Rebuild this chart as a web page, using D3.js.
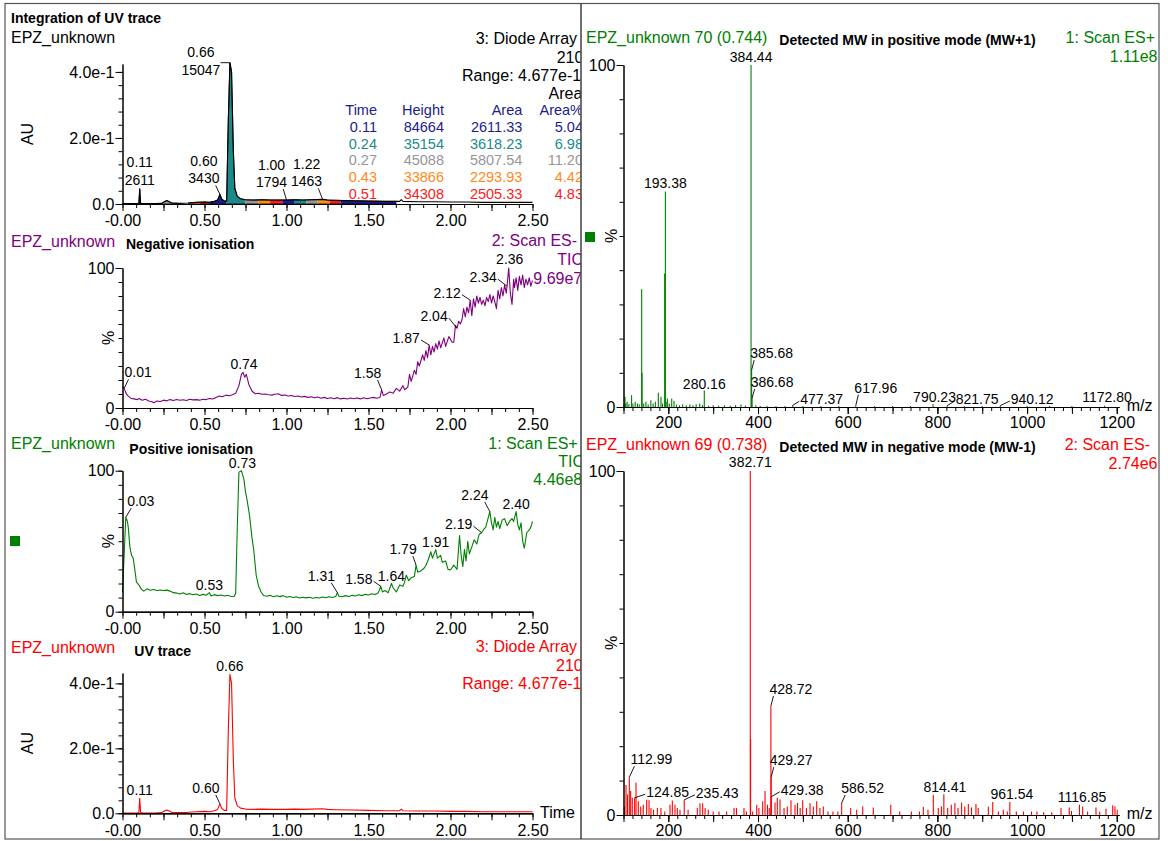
<!DOCTYPE html>
<html>
<head>
<meta charset="UTF-8">
<title>EPZ_unknown</title>
<script src="https://cdn.jsdelivr.net/npm/d3@7"></script>
<style>
body{margin:0;background:#fff;}
text{font-family:"Liberation Sans",Arial,Helvetica,sans-serif;}
</style>
</head>
<body>
<svg id="chart" width="1168" height="841"></svg>
<script>
// ---------- data ----------
// UV trace (time min, AU) - used by both UV panels
var uvTrace = [[0.00,0.001],[0.05,0.001],[0.09,0.001],[0.100,0.002],[0.105,0.046],[0.110,0.003],[0.12,0.001],[0.20,0.001],
  [0.24,0.002],[0.255,0.007],[0.27,0.0105],[0.285,0.007],[0.30,0.003],[0.35,0.002],[0.40,0.003],[0.45,0.005],[0.50,0.006],
  [0.53,0.005],[0.56,0.008],[0.58,0.012],[0.594,0.029],[0.605,0.015],[0.62,0.009],[0.635,0.009],[0.645,0.25],[0.655,0.428],
  [0.665,0.40],[0.676,0.16],[0.685,0.047],[0.70,0.023],[0.72,0.016],[0.75,0.013],[0.80,0.012],[0.85,0.013],[0.90,0.012],
  [0.95,0.012],[1.00,0.012],[1.05,0.013],[1.10,0.012],[1.15,0.013],[1.22,0.014],[1.25,0.012],[1.30,0.011],[1.40,0.010],
  [1.50,0.009],[1.60,0.008],[1.69,0.008],[1.70,0.013],[1.71,0.008],[1.80,0.007],[1.90,0.007],[2.00,0.006],[2.10,0.006],
  [2.20,0.005],[2.30,0.005],[2.40,0.005],[2.50,0.005]];

// negative ionisation TIC (time, %)
var negTic = [[0.00,15],[0.01,14],[0.02,11],[0.03,9],[0.05,7],[0.07,6.5],[0.09,6],[0.10,6.8],[0.12,5.5],[0.14,6.2],[0.16,5],
  [0.18,4.5],[0.19,3.8],[0.21,5],[0.23,4.6],[0.25,5.6],[0.27,5.1],[0.29,6],[0.31,5.3],[0.33,6.1],[0.35,5.5],[0.37,5.9],
  [0.39,5.4],[0.41,6.2],[0.43,5.8],[0.45,6],[0.47,5.6],[0.49,6.3],[0.51,6],[0.53,6.8],[0.55,6.4],[0.57,7.5],[0.59,8.6],
  [0.61,8],[0.63,9.2],[0.65,8.7],[0.67,9.5],[0.69,10.5],[0.71,16],[0.725,24],[0.735,25.5],[0.745,22],[0.755,24],[0.77,17],
  [0.79,12],[0.81,10.2],[0.83,10.5],[0.85,9.8],[0.87,10],[0.89,9.5],[0.91,9.2],[0.93,9.8],[0.95,10.2],[0.97,9],[0.99,9.3],
  [1.01,8.6],[1.03,8.9],[1.05,8.2],[1.07,8.6],[1.09,7.8],[1.11,8.3],[1.13,7.6],[1.15,8],[1.17,7.3],[1.19,7.8],[1.21,7],
  [1.23,7.6],[1.25,6.8],[1.27,7.3],[1.29,6.6],[1.31,7.4],[1.33,6.5],[1.35,7],[1.37,6.4],[1.39,7.2],[1.41,6.6],[1.43,7.1],
  [1.45,6.5],[1.47,7.3],[1.49,6.6],[1.51,7.2],[1.53,7.6],[1.55,7],[1.57,7.5],[1.58,13],[1.59,9],[1.61,10],[1.63,11.5],
  [1.65,10.5],[1.67,14],[1.69,12],[1.71,16],[1.72,13],[1.74,15],[1.75,24],[1.76,19],[1.78,27],[1.79,24],[1.80,33],[1.81,30],
  [1.83,38],[1.84,34],[1.85,41],[1.86,36],[1.87,45],[1.88,38],[1.89,44],[1.90,40],[1.91,46],[1.92,42],[1.93,48],[1.94,43],
  [1.96,50],[1.97,44],[1.99,51],[2.01,47],[2.02,47],[2.03,59],[2.04,57],[2.05,62],[2.06,60],[2.07,63],[2.08,71],[2.09,65],
  [2.10,72],[2.11,68],[2.12,77],[2.13,66],[2.14,78],[2.15,72],[2.16,80],[2.17,75],[2.18,79],[2.19,74],[2.20,77],[2.21,73],
  [2.22,79],[2.23,76],[2.24,81],[2.25,75],[2.26,80],[2.27,76],[2.28,71],[2.29,84],[2.30,78],[2.31,86],[2.32,80],[2.33,88],
  [2.34,82],[2.345,87],[2.355,100],[2.365,82],[2.375,74],[2.385,92],[2.39,86],[2.40,93],[2.41,84],[2.42,94],[2.43,88],
  [2.44,95],[2.45,86],[2.46,92],[2.47,88],[2.48,93],[2.49,87],[2.50,91]];

// positive ionisation TIC (time, %)
var posTic = [[0.00,14],[0.01,40],[0.02,67],[0.03,64],[0.035,60],[0.045,46],[0.055,40],[0.065,38],[0.075,30],[0.085,21],
  [0.10,19],[0.115,16],[0.13,14.6],[0.15,16.2],[0.17,15.2],[0.19,15.8],[0.21,15],[0.23,15.4],[0.25,15],[0.27,15.3],
  [0.29,14.6],[0.31,13.5],[0.33,13.2],[0.35,12.5],[0.37,13.4],[0.39,12.2],[0.41,12.8],[0.43,12],[0.45,12.6],[0.47,11.5],
  [0.49,12.3],[0.51,11.7],[0.53,13.5],[0.54,11.2],[0.56,12.1],[0.58,11.4],[0.60,11.8],[0.62,11.1],[0.64,11.6],[0.66,10.9],
  [0.68,10.8],[0.69,13],[0.70,60],[0.71,99],[0.725,100],[0.74,94],[0.75,85],[0.76,79],[0.775,68],[0.79,52],[0.80,44],
  [0.815,26],[0.83,18],[0.845,14],[0.86,11.5],[0.88,11],[0.90,11.6],[0.92,10.6],[0.94,11.3],[0.96,10.7],[0.98,11.4],
  [1.00,10.3],[1.02,10.8],[1.04,10.1],[1.06,10.6],[1.08,9.7],[1.10,10.3],[1.12,9.8],[1.14,10.2],[1.16,9.5],[1.18,10.1],
  [1.20,9.7],[1.22,10.4],[1.24,9.9],[1.26,10.6],[1.28,10.1],[1.30,10.8],[1.31,13.5],[1.32,11],[1.34,10.6],[1.36,11.4],
  [1.38,10.8],[1.40,11.6],[1.42,11.1],[1.44,12],[1.46,11.4],[1.48,12.3],[1.50,11.8],[1.52,12.7],[1.54,12.2],[1.56,13.5],
  [1.575,18],[1.585,14],[1.60,15],[1.62,13.5],[1.64,20],[1.65,17],[1.67,14],[1.69,19],[1.71,18],[1.72,21],[1.73,26],
  [1.745,22],[1.76,24],[1.78,25],[1.79,33],[1.80,28],[1.82,29],[1.84,31],[1.85,33],[1.865,37],[1.88,42.5],[1.89,38],
  [1.91,44],[1.92,38],[1.94,40],[1.95,35],[1.97,36],[1.985,30],[2.00,29.6],[2.02,33],[2.04,30],[2.055,54],[2.065,40],
  [2.075,32],[2.085,44],[2.095,36],[2.105,50],[2.115,41],[2.13,46],[2.145,51],[2.16,48],[2.175,55],[2.19,56],[2.20,58],
  [2.215,60],[2.24,71],[2.25,63],[2.26,58],[2.27,67],[2.28,60],[2.29,64],[2.30,59],[2.315,65],[2.33,66],[2.345,61],
  [2.36,64],[2.375,66],[2.385,64],[2.40,71],[2.41,62],[2.42,58],[2.43,63],[2.44,50],[2.45,45],[2.465,56],[2.48,58],
  [2.49,60],[2.50,64]];

// integration windows (start, end time) and their fill colours
var intWindows = [[0.0,0.125],[0.13,0.25],[0.25,0.34],[0.40,0.47],[0.47,0.53],[0.53,0.635],[0.635,0.75],[0.75,0.83],
  [0.83,0.90],[0.90,0.975],[0.975,1.05],[1.05,1.12],[1.12,1.19],[1.19,1.265],[1.265,1.33],[1.33,1.67]];
var intColors = ["#1c1c8e","#1a8a8a","#969696","#ff8a1a","#ff1a1a"];

// integration table
var tblHead = ["Time","Height","Area","Area%"];
var tblTime = ["0.11","0.24","0.27","0.43","0.51"];
var tblHeight = ["84664","35154","45088","33866","34308"];
var tblArea = ["2611.33","3618.23","5807.54","2293.93","2505.33"];
var tblPct = ["5.04","6.98","11.20","4.42","4.83"];

// peak labels: [text lines, time of the marked point]
var intLabels = [[["0.11","2611"],0.105],[["0.60","3430"],0.594],[["0.66","15047"],0.655],[["1.00","1794"],1.00],[["1.22","1463"],1.22]];
var negLabels = [["0.01",0.01],["0.74",0.735],["1.58",1.58],["1.87",1.87],["2.04",2.04],["2.12",2.12],["2.34",2.345],["2.36",2.355]];
var posLabels = [["0.03",0.02],["0.53",0.53],["0.73",0.725],["1.31",1.31],["1.58",1.575],["1.64",1.64],["1.79",1.79],["1.91",1.91],["2.19",2.19],["2.24",2.24],["2.40",2.40]];
var uvLabels = [["0.11",0.105],["0.60",0.594],["0.66",0.655]];

// mass spectra (m/z, %)
var posSpec = [[101,0.8],[103.3,3],[105,1],[108,1.5],[112,0.8],[118,3.4],[121,1],[126,1.5],[131,1],[135,0.8],[140.5,34.4],
  [141.5,10],[145,1],[150,1.5],[155,0.7],[161,2],[166,1],[171,1.5],[177.7,4.2],[183.6,3],[187,1],[191.8,39],[193.38,63],
  [195,1.5],[197.8,2.5],[202,1],[207.5,2.5],[212.6,1.8],[218,0.7],[225,0.5],[232,0.8],[240,0.5],[248,0.7],[255,0.5],
  [262,0.8],[270,1],[276,0.6],[280.16,4.8],[290,0.4],[300,0.5],[312,0.4],[325,0.5],[338,0.4],[350,0.6],[362,0.7],[372,0.4],
  [384.44,100],[385.68,10.8],[386.68,2.6],[395,0.5],[405,0.3],[420,0.4],[440,0.3],[460,0.3],[477.37,0.5],[500,0.3],
  [540,0.3],[580,0.3],[617.96,0.4],[660,0.3],[700,0.3],[740,0.3],[790.23,0.9],[821.75,0.4],[860,0.3],[900,0.3],
  [940.12,0.4],[1000,0.3],[1050,0.3],[1100,0.3],[1172.80,0.4]];
var negSpec = [[102,2.5],[105.6,8.7],[109,6],[112.99,11],[116,7],[119.6,5],[124.85,5],[127.9,9.4],[133,4],[138.4,2.5],
  [144,3],[151.7,4.4],[156.9,4.3],[161.3,2],[167,1.5],[175.5,2],[183.6,2],[192,1],[203.7,3],[208.9,4.2],[214.8,3],[220,2],
  [226,1.5],[235.43,4.4],[244,1.5],[264.6,2],[270.6,3.4],[276.6,3.4],[282,2],[289,1.5],[300,1],[313,1],[330,1],[346.5,2],
  [352,2],[368.7,2],[374,1],[382.71,100],[383.4,22],[388,1],[397,3],[402,2],[410.4,4],[415.6,7],[421,3],[425,2],
  [428.72,31.7],[429.27,11],[429.38,5.3],[437.9,3.6],[443,5],[449,4.5],[458,2],[465.3,2.5],[473.5,4.3],[482.5,3],
  [488,3.5],[494,2],[499.6,4.3],[508,2],[516,3.5],[523.3,2.5],[530.8,4],[538,2],[545.6,2.5],[556,1],[567,1],[578,1],
  [586.52,3.5],[606.6,2],[620,1.5],[633.5,2.5],[657,2.2],[696,3],[716,1],[742,1],[760,1],[768.6,2.3],[779,1.5],
  [790.9,5.8],[802,2],[809,2.5],[814.41,6],[823,2],[831,3],[839,3.5],[846,2],[854,3.6],[861,2.5],[869,3.2],[876,2.2],
  [886,3.2],[891,2],[913.6,2.4],[923.4,3.8],[936,1],[947,1.5],[956,1],[961.54,3.8],[976,1],[992,1],[1010,1],[1022,1],
  [1037,0.8],[1055,0.8],[1075.7,2],[1094,2.2],[1099,1.2],[1116.85,3],[1124,2.5],[1135,1],[1153.7,2.2],[1162,1],
  [1176,1.8],[1191,2.8],[1196,2.5],[1201,1.5]];
var posSpecLabels = [384.44,193.38,385.68,386.68,280.16,477.37,617.96,790.23,821.75,940.12,1172.80];
var negSpecLabels = [382.71,428.72,429.27,429.38,112.99,124.85,235.43,586.52,814.41,961.54,1116.85];

// ---------- layout ----------
var svg = d3.select("#chart");
svg.append("rect").attr("width",1168).attr("height",841).attr("fill","#fff");

var PURPLE = "#800080", GREEN = "#008000", RED = "#ff0000";
var fmtTime = function(d){ return d === 0 ? "-0.00" : d3.format(".2f")(d); };

svg.append("defs").append("clipPath").attr("id","leftClip")
  .append("rect").attr("x",0).attr("y",0).attr("width",580.5).attr("height",841);
var left = svg.append("g").attr("clip-path","url(#leftClip)");
var right = svg.append("g");

function styleAxis(g) {
  g.selectAll("path,line").attr("stroke","#000").attr("stroke-width",1);
  g.selectAll("text").attr("fill","#000").attr("font-size",16);
}

function nearest(data, t) {
  var i = d3.minIndex(data, function(d){ return Math.abs(d[0]-t); });
  return data[i];
}

// label with optional leader line, offset (dx,dy) from the marked point
function addLabel(g, px, py, lines, off) {
  var tx = px + off[0], ty = py + off[1];
  var t = g.append("text").attr("text-anchor","middle").attr("font-size",14).attr("fill","#000");
  lines.forEach(function(s,i){
    t.append("tspan").attr("x",tx).attr("y",ty - (lines.length-1-i)*17.5).text(s);
  });
  if (Math.abs(off[0]) > 3) {
    var b = t.node().getBBox(), l = b.x, r = b.x + b.width, sx, sy;
    if (off[1] > 0) { sx = off[0] < 0 ? r : l; sy = py; }
    else if (off[1] < -7) { sx = off[0] < 0 ? r - 4 : l + 4; sy = ty + 2; }
    else { sx = off[0] < 0 ? r + 1 : l - 1; sy = ty - 3; }
    g.append("line").attr("x1",sx).attr("y1",sy).attr("x2",px).attr("y2",py)
      .attr("stroke","#000").attr("stroke-width",0.9);
  }
}

function timeAxes(g, x, y0) {
  var ax = g.append("g").attr("transform","translate(0,"+y0+")");
  ax.append("g").call(d3.axisBottom(x).tickValues(d3.range(0,31).map(function(i){return i/12;}))
    .tickSize(4).tickSizeOuter(0).tickFormat(""));
  ax.append("g").call(d3.axisBottom(x).tickValues([0.25,0.75,1.25,1.75,2.25]).tickSize(7).tickSizeOuter(0).tickFormat(""));
  ax.append("g").call(d3.axisBottom(x).tickValues([0,0.5,1,1.5,2,2.5]).tickSize(7).tickPadding(4)
    .tickSizeOuter(0).tickFormat(fmtTime));
  styleAxis(ax);
}

function valueAxes(g, x0, y, majors, minors, fmt) {
  var ax = g.append("g").attr("transform","translate("+x0+",0)");
  ax.append("g").call(d3.axisLeft(y).tickValues(minors).tickSize(4).tickSizeOuter(0).tickFormat(""));
  ax.append("g").call(d3.axisLeft(y).tickValues(majors).tickSize(7).tickPadding(1).tickSizeOuter(0).tickFormat(fmt));
  styleAxis(ax);
}

function headText(g, s, x, yb, color, size, bold) {
  return g.append("text").attr("x",x).attr("y",yb).attr("fill",color).attr("font-size",size)
    .attr("font-weight",bold ? "bold" : null).text(s);
}

function leftPanel(o) {
  var g = left.append("g");
  var x = d3.scaleLinear().domain([0,2.5]).range([122.5,532.5]);
  var y = d3.scaleLinear().domain([0,o.ymax]).range([o.y0,o.yTop]);
  var line = d3.line().x(function(d){return x(d[0]);}).y(function(d){return y(d[1]);});

  if (o.windows) {
    var area = d3.area().x(function(d){return x(d[0]);}).y0(y(0)).y1(function(d){return y(d[1]);});
    o.windows.forEach(function(w,i){
      var id = "win" + i;
      g.append("clipPath").attr("id",id).append("rect")
        .attr("x",x(w[0])).attr("y",o.yTop-10).attr("width",x(w[1])-x(w[0])).attr("height",o.y0-o.yTop+10);
      g.append("path").datum(o.data).attr("d",area).attr("clip-path","url(#"+id+")")
        .attr("fill",intColors[i % intColors.length]).attr("stroke","#000").attr("stroke-width",0.8);
    });
  }
  g.append("path").datum(o.data).attr("d",line).attr("fill","none")
    .attr("stroke",o.color).attr("stroke-width",1.1).attr("stroke-linejoin","round");

  timeAxes(g, x, o.y0);
  valueAxes(g, 122.5, y, o.majors, o.minors, o.fmt);

  g.append("text").attr("transform","translate("+o.yLabelX+","+y(o.ymax/2)+") rotate(-90)")
    .attr("text-anchor","middle").attr("dy","0.35em").attr("font-size",16).attr("fill","#000").text(o.yLabel);

  o.labels.forEach(function(lb,i){
    var p = nearest(o.data, lb[1]);
    var lines = Array.isArray(lb[0]) ? lb[0] : [lb[0]];
    addLabel(g, x(p[0]), y(p[1]), lines, o.offsets[i]);
  });
  o.texts.forEach(function(t){ headText(g, t[0], t[1], t[2], t[3], t[4], t[5]); });
  return {g:g, x:x, y:y};
}

var uvFmt = function(d){ return d === 0 ? "0.0" : d3.format(".1e")(d); };
var uvMinors = d3.range(0,11).map(function(i){return i*0.04;});
var pctMinors = d3.range(0,11).map(function(i){return i*10;});

// panel 1: integration of UV trace
var p1 = leftPanel({
  data: uvTrace, color:"#000", ymax:0.424, y0:204, yTop:64, windows:intWindows,
  majors:[0,0.2,0.4], minors:uvMinors, fmt:uvFmt, yLabel:"AU", yLabelX:27,
  labels:intLabels, offsets:[[0,-4],[-16,-11],[-29,12],[-15,-13],[-16,-13]],
  texts:[["Integration of UV trace",11,22.7,"#000",14,true],["EPZ_unknown",11,43.3,"#000",16],
    ["3: Diode Array",475.7,44.3,"#000",16],["210",556.7,62.7,"#000",16],
    ["Range: 4.677e-1",462,81,"#000",16],["Area",548.5,99,"#000",16]]
});
// integration table
var colRight = [377, 444, 522.3, 583];
var rowColors = ["#1c1c8e","#1a8a8a","#969696","#ff8a1a","#ff1a1a"];
var cols = [tblTime, tblHeight, tblArea, tblPct];
tblHead.forEach(function(h,c){
  p1.g.append("text").attr("x",colRight[c]).attr("y",115).attr("text-anchor","end")
    .attr("font-size",14.5).attr("fill",rowColors[0]).text(h);
});
tblTime.forEach(function(_,r){
  cols.forEach(function(col,c){
    p1.g.append("text").attr("x",colRight[c]).attr("y",131.8 + r*16.8).attr("text-anchor","end")
      .attr("font-size",14.5).attr("fill",rowColors[r]).text(col[r]);
  });
});

// panel 2: negative ionisation
leftPanel({
  data: negTic, color:PURPLE, ymax:100, y0:408, yTop:268,
  majors:[0,100], minors:pctMinors, fmt:d3.format("d"), yLabel:"%", yLabelX:108,
  labels:negLabels, offsets:[[14,-11],[1,-3],[-14,-12],[-23,-2],[-23,-7],[-23,-2.5],[-24,-4],[1,-4]],
  texts:[["EPZ_unknown",11,246.7,PURPLE,16],["Negative ionisation",126,249,"#000",14,true],
    ["2: Scan ES-",491.7,245.7,PURPLE,16],["TIC",557.3,265,PURPLE,16],["9.69e7",533.3,284.3,PURPLE,16]]
});

// panel 3: positive ionisation
var p3 = leftPanel({
  data: posTic, color:GREEN, ymax:100, y0:611.7, yTop:470.7,
  majors:[0,100], minors:pctMinors, fmt:d3.format("d"), yLabel:"%", yLabelX:108,
  labels:posLabels, offsets:[[15,-11],[0,-3],[1,-3],[-16,-12],[-22,-2],[0,-3],[-13,-11],[0,-3],[-23,-3.5],[-15,-11.7],[0,-3]],
  texts:[["EPZ_unknown",11,449.3,GREEN,16],["Positive ionisation",129.3,454,"#000",14,true],
    ["1: Scan ES+",488.3,449,GREEN,16],["TIC",558.3,467.3,GREEN,16],["4.46e8",533.3,485,GREEN,16]]
});
p3.g.append("rect").attr("x",10).attr("y",536).attr("width",10).attr("height",10).attr("fill",GREEN);

// panel 4: UV trace
var p4 = leftPanel({
  data: uvTrace, color:RED, ymax:0.432, y0:813.3, yTop:673,
  majors:[0,0.2,0.4], minors:uvMinors, fmt:uvFmt, yLabel:"AU", yLabelX:27,
  labels:uvLabels, offsets:[[0,-3],[-14,-11],[0,-3]],
  texts:[["EPZ_unknown",11,652.7,RED,16],["UV trace",134.3,656,"#000",14,true],
    ["3: Diode Array",475.7,651.7,RED,16],["210",556,670.7,RED,16],["Range: 4.677e-1",462.3,689.3,RED,16]]
});
headText(p4.g, "Time", 540, 818.3, "#000", 16);

// ---------- mass spectra ----------
function specPanel(o) {
  var g = right.append("g");
  var x = d3.scaleLinear().domain([100,1205]).range([623.5,1119]);
  var y = d3.scaleLinear().domain([0,100]).range([o.y0,o.yTop]);
  g.selectAll("line.stick").data(o.data).enter().append("line").attr("class","stick")
    .attr("x1",function(d){return x(d[0]);}).attr("x2",function(d){return x(d[0]);})
    .attr("y1",y(0)).attr("y2",function(d){return y(d[1]);})
    .attr("stroke",o.color).attr("stroke-width",1.1);

  var ax = g.append("g").attr("transform","translate(0,"+o.y0+")");
  ax.append("g").call(d3.axisBottom(x).tickValues(d3.range(100,1201,20)).tickSize(4).tickSizeOuter(0).tickFormat(""));
  ax.append("g").call(d3.axisBottom(x).tickValues(d3.range(100,1201,100)).tickSize(7).tickSizeOuter(0).tickFormat(""));
  ax.append("g").call(d3.axisBottom(x).tickValues([200,400,600,800,1000,1200]).tickSize(7).tickPadding(3)
    .tickSizeOuter(0).tickFormat(d3.format("d")));
  styleAxis(ax);
  valueAxes(g, 623.5, y, [0,100], pctMinors, d3.format("d"));
  g.append("text").attr("transform","translate(611,"+y(50)+") rotate(-90)")
    .attr("text-anchor","middle").attr("dy","0.35em").attr("font-size",16).attr("fill","#000").text("%");
  headText(g, "m/z", 1126.7, o.y0 + 4, "#000", 16);

  o.labels.forEach(function(m,i){
    var p = nearest(o.data, m);
    addLabel(g, x(p[0]), y(p[1]), [d3.format(".2f")(m)], o.offsets[i]);
  });
  o.texts.forEach(function(t){
    var el = headText(g, t[0], t[1], t[2], t[3], t[4], t[5]);
    if (t[6]) el.attr("text-anchor","end");
  });
  return g;
}

var sp1 = specPanel({
  data: posSpec, color:GREEN, y0:407, yTop:65, labels:posSpecLabels,
  offsets:[[0,-3],[0,-4],[20,-12],[20,-11],[0,-2],[29,-1],[20,-13],[1.5,-2.2],[30,-1.6],[32,-1.6],[2.5,-4]],
  texts:[["EPZ_unknown 70 (0.744)",586,43.3,GREEN,16],["Detected MW in positive mode (MW+1)",779.3,45,"#000",14,true],
    ["1: Scan ES+",1155,43.3,GREEN,16,false,true],["1.11e8",1157.5,61.7,GREEN,16,false,true]]
});
sp1.append("rect").attr("x",585).attr("y",232).attr("width",10).attr("height",10).attr("fill",GREEN);

specPanel({
  data: negSpec, color:RED, y0:815, yTop:471, labels:negSpecLabels,
  offsets:[[0,-4],[20,-12],[20,-12],[31,-2],[22,-13],[33,-0.5],[33,-2],[21,-10],[1,-2],[2,-3],[2.5,-3]],
  texts:[["EPZ_unknown 69 (0.738)",586,450,RED,16],["Detected MW in negative mode (MW-1)",779.3,451.7,"#000",14,true],
    ["2: Scan ES-",1150,450,RED,16,false,true],["2.74e6",1157.5,469.3,RED,16,false,true]]
});

// frame
svg.append("rect").attr("x",5).attr("y",3.5).attr("width",1154).attr("height",835.5)
  .attr("fill","none").attr("stroke","#555").attr("stroke-width",1.2);
svg.append("line").attr("x1",581).attr("x2",581).attr("y1",3.5).attr("y2",839)
  .attr("stroke","#222").attr("stroke-width",1.3);
</script>
</body>
</html>
